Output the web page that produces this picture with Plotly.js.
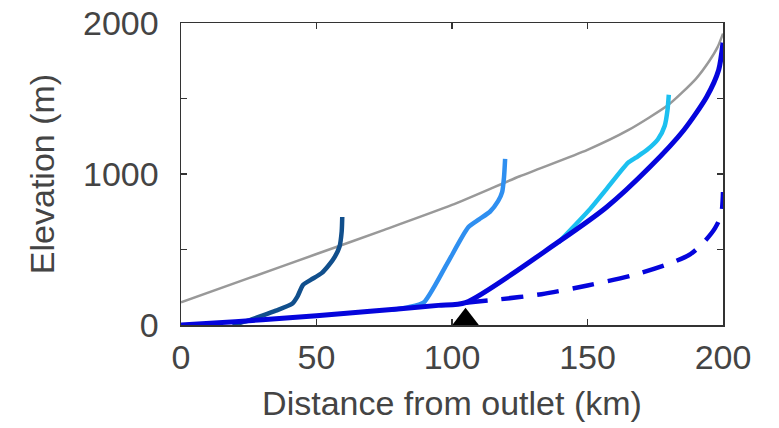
<!DOCTYPE html>
<html>
<head>
<meta charset="utf-8">
<script src="https://cdn.plot.ly/plotly-3.0.1.min.js"></script>
<style>html,body{margin:0;padding:0;background:#fff;}#chart{width:779px;height:428px;}</style>
</head>
<body>
<div id="chart"></div>
<script>
// Gray reference profile
var grayX = [0, 25, 50, 75, 100, 125, 150, 165, 180, 190, 195, 198, 200];
var grayY = [150, 310, 470, 630, 795, 985, 1160, 1290, 1460, 1630, 1750, 1840, 1930];

// Main blue profile (solid)
var mainX = [0, 20, 40, 60, 80, 95, 105, 139, 157, 173, 185.5, 194, 198.4, 200];
var mainY = [0, 22, 48, 76, 106, 130, 148, 547, 780, 1046, 1290, 1512, 1689, 1870];

// Main blue extension (dashed)
var dashX = [105, 116, 133, 150, 166, 180, 188, 193, 197, 199.3, 200];
var dashY = [148, 167, 204, 262, 326, 405, 470, 550, 640, 730, 880];

// Dark tributary
var darkX = [19, 25, 30, 35, 41, 43, 45, 48, 52, 56, 58.5, 59.3, 59.5];
var darkY = [0, 30, 62, 95, 140, 190, 265, 300, 345, 430, 520, 620, 715];

// Medium blue tributary
var medX = [78, 84, 89.5, 98, 106, 110, 114, 117, 118.5, 119.2, 119.6];
var medY = [100, 118, 148, 400, 647, 700, 750, 820, 880, 980, 1100];

// Cyan tributary
var cyanX = [139.3, 151, 157, 165, 168, 172, 176, 178.5, 179.5, 180];
var cyanY = [547, 769, 900, 1075, 1110, 1160, 1230, 1320, 1420, 1525];

// Marker (triangle)
var markX = [105];
var markY = [35];

var xTicks = [0, 50, 100, 150, 200];
var yTickVals = [0, 500, 1000, 1500, 2000];
var yTickText = ["0", "", "1000", "", "2000"];

var traces = [
  {x: grayX, y: grayY, mode: 'lines', line: {color: '#999999', width: 2.5, shape: 'spline', smoothing: 0.6}, hoverinfo: 'skip'},
  {x: dashX, y: dashY, mode: 'lines', line: {color: '#0505dc', width: 4.5, dash: '22px,14px', shape: 'spline', smoothing: 0.8}},
  {x: darkX, y: darkY, mode: 'lines', line: {color: '#114f8c', width: 4.5, shape: 'spline', smoothing: 0.6}},
  {x: medX, y: medY, mode: 'lines', line: {color: '#2f8ff0', width: 4.5, shape: 'spline', smoothing: 0.6}},
  {x: cyanX, y: cyanY, mode: 'lines', line: {color: '#1cc0f0', width: 4.5, shape: 'spline', smoothing: 0.6}},
  {x: mainX, y: mainY, mode: 'lines', line: {color: '#0505dc', width: 5, shape: 'spline', smoothing: 0.7}},
  {x: markX, y: markY, mode: 'markers', marker: {symbol: 'triangle-up', size: 24, color: '#000000'}, cliponaxis: false}
];

var font = {family: '"Liberation Sans", Arial, sans-serif', size: 34, color: '#444444'};

var layout = {
  width: 779, height: 428,
  margin: {l: 181, r: 56, t: 23, b: 103},
  paper_bgcolor: '#ffffff', plot_bgcolor: '#ffffff',
  showlegend: false,
  font: font,
  xaxis: {
    range: [0, 200], tickvals: xTicks, ticks: 'inside', ticklen: 6, tickwidth: 1.5, tickcolor: '#333',
    showline: true, linecolor: '#333', linewidth: 1.5, mirror: 'ticks', showgrid: false, zeroline: false,
    tickfont: font, ticklabelstandoff: 2,
    title: {text: 'Distance from outlet (km)', font: font, standoff: 16}
  },
  yaxis: {
    range: [0, 2000], tickvals: yTickVals, ticktext: yTickText, ticks: 'inside', ticklen: 6, tickwidth: 1.5, tickcolor: '#333',
    showline: true, linecolor: '#333', linewidth: 1.5, mirror: 'ticks', showgrid: false, zeroline: false,
    tickfont: font, ticklabelstandoff: 14,
    title: {text: 'Elevation (m)', font: font, standoff: 18}
  }
};

Plotly.newPlot('chart', traces, layout, {displayModeBar: false, staticPlot: true});
</script>
</body>
</html>
